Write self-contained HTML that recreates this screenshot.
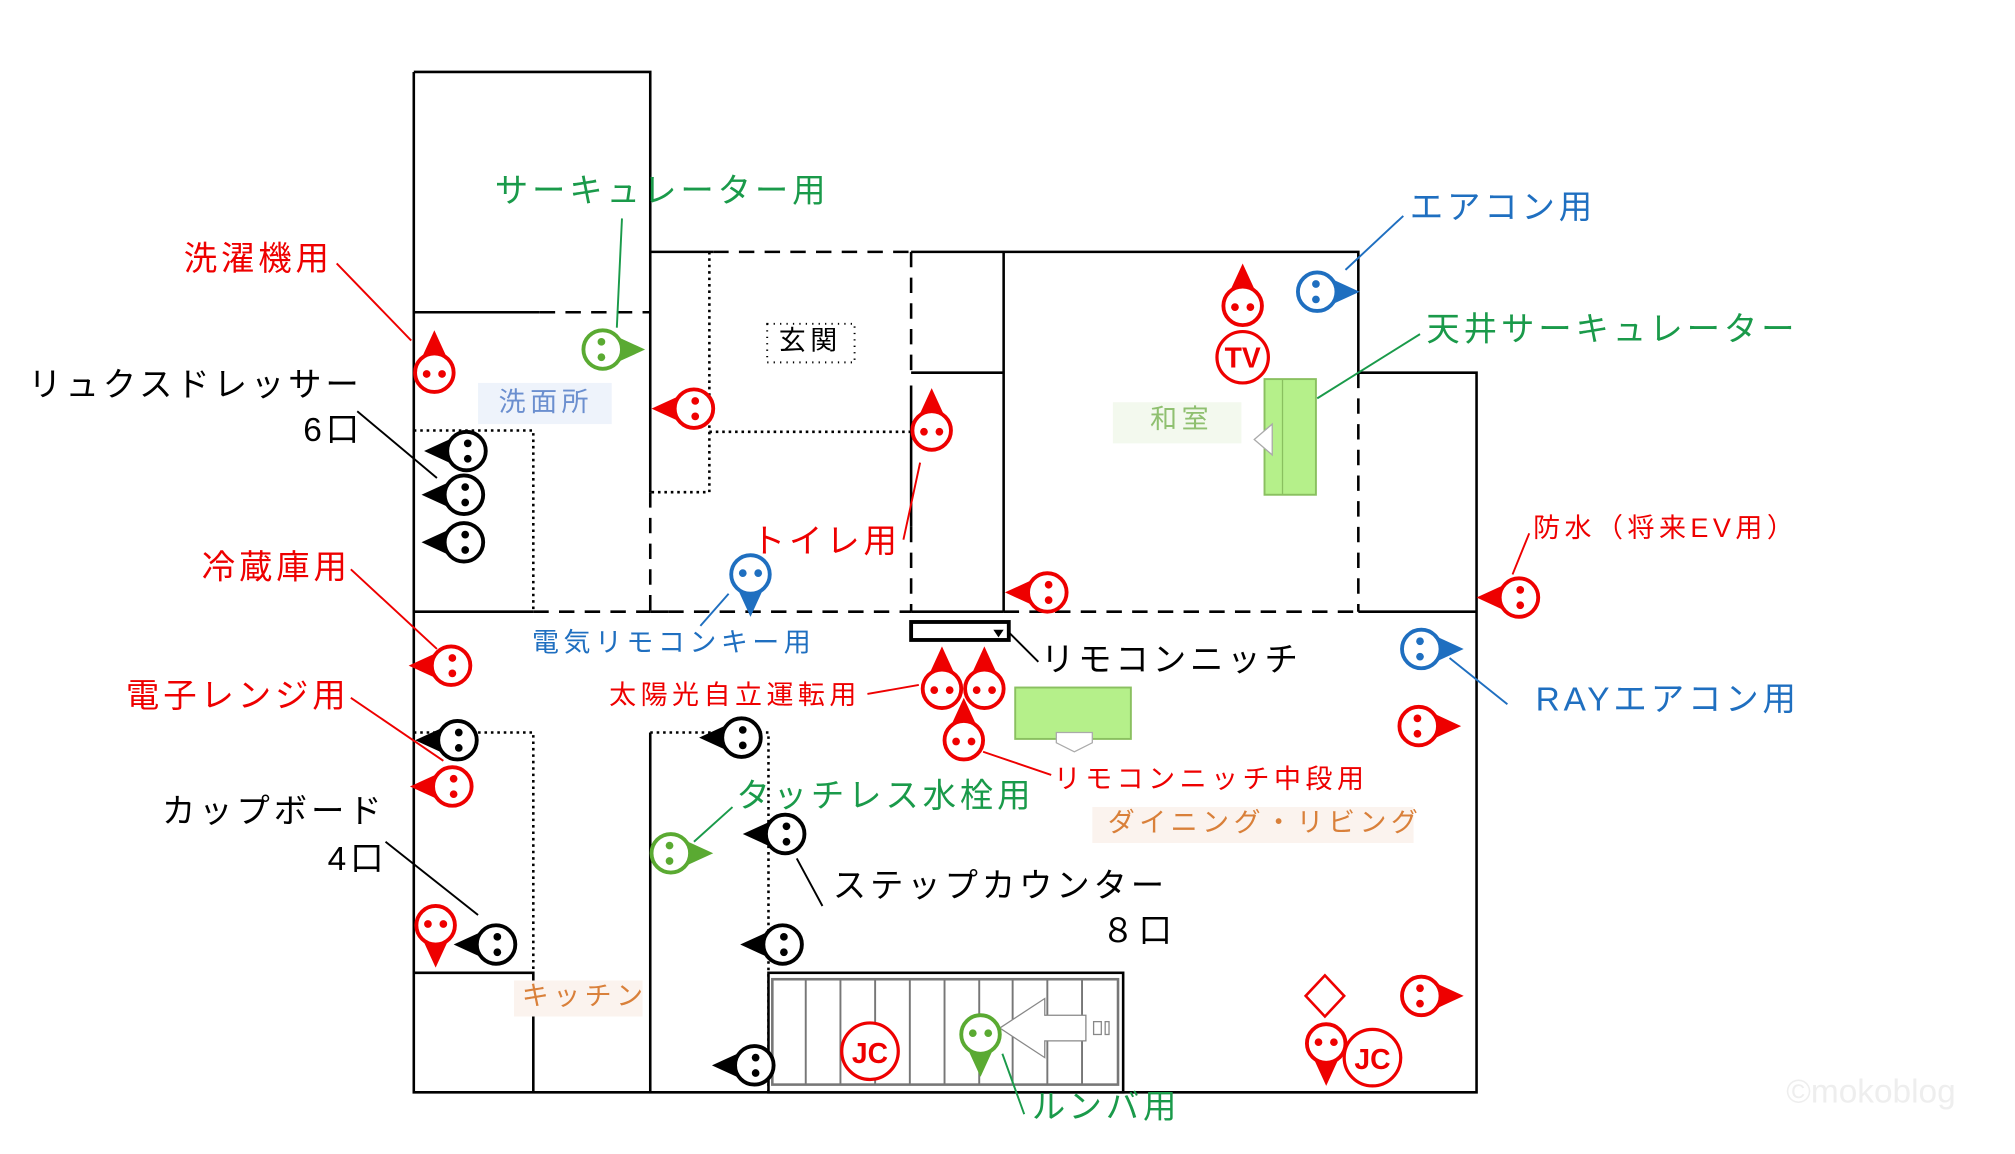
<!DOCTYPE html>
<html><head><meta charset="utf-8"><style>
html,body{margin:0;padding:0;background:#fff;}
svg{display:block;}
text{font-family:"Liberation Sans","Noto Sans CJK JP",sans-serif;}
.b{letter-spacing:3px;}
.s{letter-spacing:3.5px;}
</style></head><body>
<svg width="2015" height="1154" viewBox="0 0 1568 898" preserveAspectRatio="none" xmlns="http://www.w3.org/2000/svg">
<defs>
<g id="o"><path d="M-11,-9 L0,-33 L11,-9Z" fill="currentColor"/><circle r="15" fill="#fff" stroke="currentColor" stroke-width="3"/><circle cx="-6" cy="1" r="3" fill="currentColor"/><circle cx="6" cy="1" r="3" fill="currentColor"/></g>
</defs>
<rect width="1568" height="898" fill="#fff"/>
<g stroke="#000" stroke-width="2" fill="none">
<path d="M322,56 V850 H1149 V290 H1057 M322,56 H506 V383 M322,243 H420 M506,196 H555 M709,196 H1057 V290 M781,196 V476 M709,290 H781 M709,300 V410 M322,476 H415 M506,476 H520 M709,476 H781 M1057,476 H1149 M322,757 H415 V850 M506,570 V850"/>
<path stroke-dasharray="12,8" d="M420,243 H506 M506,383 V476 M555,196 H709 M709,196 V290 M709,410 V476 M415,476 H506 M520,476 H709 M781,476 H1057 M1057,290 V476"/>
<path stroke-dasharray="2,3" stroke-width="2" d="M322,335 H415 V476 M552,196 V383 H506 M552,336 H709 M322,570 H415 V757 M506,570 H598 V850"/>
</g>
<rect x="598" y="757" width="276" height="93" fill="#fff" stroke="#000" stroke-width="2"/>
<rect x="601" y="762" width="269" height="82" fill="none" stroke="#777" stroke-width="2"/>
<g stroke="#777" stroke-width="1.5"><path d="M627,762V844M654,762V844M681,762V844M708,762V844M735,762V844M762,762V844M788,762V844M815,762V844M842,762V844"/></g>
<path d="M778,800 L813,777 V790 H845 V810 H813 V823Z" fill="#fff" stroke="#888" stroke-width="1"/>
<rect x="851" y="795" width="6" height="10" fill="none" stroke="#888"/><rect x="860" y="795" width="3" height="10" fill="none" stroke="#888"/>
<rect x="709" y="484" width="76" height="14" fill="#fff" stroke="#000" stroke-width="3"/>
<path d="M773,490 L781,490 L777,496Z" fill="#000"/>
<rect x="984" y="295" width="40" height="90" fill="#b5f08a" stroke="#8ac060" stroke-width="1.5"/>
<line x1="998" y1="295" x2="998" y2="385" stroke="#8ac060"/>
<path d="M976,342 L990,330 V354Z" fill="#fff" stroke="#aaa"/>
<rect x="790" y="535" width="90" height="40" fill="#b5f08a" stroke="#8ac060" stroke-width="1.5"/>
<path d="M822,570 H850 V578 L836,585 L822,578Z" fill="#fff" stroke="#aaa"/>
<g stroke-width="1.5" fill="none">
<path stroke="#e00" d="M262,205L320,265M273,443L340,505M273,543L345,592M1190,415L1177,447M675,540L715,533M818,603L765,585M703,420L716,360"/>
<path stroke="#000" d="M278,320L340,372M300,655L372,712M808,515L785,492M640,705L620,668"/>
<path stroke="#1a9a4a" d="M484,170L480,255M1105,260L1025,310M570,628L540,655M797,867L780,820"/>
<path stroke="#1f6fc0" d="M1092,168L1047,210M1173,548L1128,512M545,487L567,462"/>
</g>
<g color="#e00">
<use href="#o" transform="translate(338,290)"/>
<use href="#o" transform="translate(540,318) rotate(-90)"/>
<use href="#o" transform="translate(967,238)"/>
<use href="#o" transform="translate(725,335)"/>
<use href="#o" transform="translate(815,461) rotate(-90)"/>
<use href="#o" transform="translate(1182,465) rotate(-90)"/>
<use href="#o" transform="translate(351,518) rotate(-90)"/>
<use href="#o" transform="translate(352,612) rotate(-90)"/>
<use href="#o" transform="translate(733,536)"/>
<use href="#o" transform="translate(766,536)"/>
<use href="#o" transform="translate(750,576)"/>
<use href="#o" transform="translate(1104,565) rotate(90)"/>
<use href="#o" transform="translate(339,720) rotate(180)"/>
<use href="#o" transform="translate(1032,812) rotate(180)"/>
<use href="#o" transform="translate(1106,775) rotate(90)"/>
</g>
<g color="#1f6fc0">
<use href="#o" transform="translate(1025,227) rotate(90)"/>
<use href="#o" transform="translate(584,447) rotate(180)"/>
<use href="#o" transform="translate(1106,505) rotate(90)"/>
</g>
<g color="#5aaa32">
<use href="#o" transform="translate(469,272) rotate(90)"/>
<use href="#o" transform="translate(522,664) rotate(90)"/>
<use href="#o" transform="translate(763,805) rotate(180)"/>
</g>
<g color="#000">
<use href="#o" transform="translate(363,351) rotate(-90)"/>
<use href="#o" transform="translate(361,385) rotate(-90)"/>
<use href="#o" transform="translate(361,422) rotate(-90)"/>
<use href="#o" transform="translate(356,576) rotate(-90)"/>
<use href="#o" transform="translate(386,735) rotate(-90)"/>
<use href="#o" transform="translate(577,574) rotate(-90)"/>
<use href="#o" transform="translate(611,649) rotate(-90)"/>
<use href="#o" transform="translate(609,735) rotate(-90)"/>
<use href="#o" transform="translate(587,829) rotate(-90)"/>
</g>
<g fill="#fff" stroke="#e00" stroke-width="2.5">
<circle cx="967" cy="278" r="20"/><circle cx="677" cy="818" r="22"/><circle cx="1068" cy="823" r="22"/>
<path d="M1031,759 L1046,775 L1031,791 L1016,775Z" stroke-width="2"/>
</g>
<g fill="#e00" font-weight="bold" text-anchor="middle" font-size="22">
<text x="967" y="286">TV</text><text x="677" y="827">JC</text><text x="1068" y="832">JC</text>
</g>
<rect x="597" y="252" width="68" height="30" fill="none" stroke="#000" stroke-dasharray="1,4" stroke-width="1.5"/>
<text x="606" y="272" font-size="21" class="s">玄関</text>
<rect x="372" y="298" width="104" height="32" fill="#eef3fb"/>
<text x="388" y="320" font-size="21" fill="#6b8fcf" class="s">洗面所</text>
<rect x="866" y="313" width="100" height="32" fill="#f3f9ee"/>
<text x="895" y="333" font-size="21" fill="#8fc070" class="s">和室</text>
<rect x="850" y="628" width="250" height="28" fill="#fbf3ee"/>
<text x="862" y="647" font-size="21" fill="#d9803a" class="s">ダイニング・リビング</text>
<rect x="400" y="763" width="100" height="28" fill="#fbf3ee"/>
<text x="406" y="782" font-size="21" fill="#d9803a" class="s">キッチン</text>
<g font-size="26" class="b">
<text x="385" y="157" fill="#1a9a4a">サーキュレーター用</text>
<text x="143" y="210" fill="#e00">洗濯機用</text>
<text x="22" y="308" fill="#000">リュクスドレッサー</text>
<text x="236" y="343" fill="#000">6口</text>
<text x="157" y="450" fill="#e00">冷蔵庫用</text>
<text x="98" y="550" fill="#e00">電子レンジ用</text>
<text x="126" y="640" fill="#000">カップボード</text>
<text x="255" y="677" fill="#000">4口</text>
<text x="1097" y="170" fill="#1f6fc0">エアコン用</text>
<text x="1110" y="265" fill="#1a9a4a">天井サーキュレーター</text>
<text x="1195" y="553" fill="#1f6fc0">RAYエアコン用</text>
<text x="810" y="522" fill="#000">リモコンニッチ</text>
<text x="573" y="628" fill="#1a9a4a">タッチレス水栓用</text>
<text x="648" y="698" fill="#000">ステップカウンター</text>
<text x="857" y="733" fill="#000">８口</text>
<text x="585" y="430" fill="#e00">トイレ用</text>
<text x="803" y="870" fill="#1a9a4a">ルンバ用</text>
<text x="1390" y="858" fill="#eee" style="letter-spacing:0">©mokoblog</text>
</g>
<g font-size="21" class="s">
<text x="1193" y="418" fill="#e00">防水（将来EV用）</text>
<text x="474" y="548" fill="#e00">太陽光自立運転用</text>
<text x="820" y="613" fill="#e00">リモコンニッチ中段用</text>
<text x="414" y="507" fill="#1f6fc0">電気リモコンキー用</text>
</g>
</svg>
</body></html>
